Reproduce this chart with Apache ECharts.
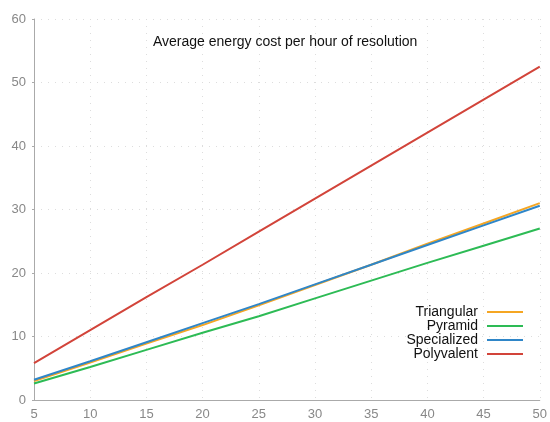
<!DOCTYPE html>
<html><head><meta charset="utf-8">
<script src="https://cdn.jsdelivr.net/npm/echarts@6/dist/echarts.min.js"></script>
<style>html,body{margin:0;padding:0;background:#fff}#c{width:550px;height:422px}</style>
</head><body><div id="c"></div>
<script>
const xValues = [5, 10, 15, 20, 25, 30, 35, 40, 45, 50];
const triangular = [3.0, 5.9, 8.9, 11.8, 14.9, 18.1, 21.3, 24.6, 27.8, 31.0];
const pyramid = [2.6, 5.2, 7.9, 10.6, 13.2, 16.0, 18.8, 21.6, 24.3, 27.0];
const specialized = [3.2, 6.1, 9.1, 12.1, 15.1, 18.2, 21.3, 24.4, 27.5, 30.6];
const polyvalent = [5.8, 11.0, 16.2, 21.3, 26.5, 31.7, 36.9, 42.1, 47.3, 52.5];
const seriesNames = ['Triangular', 'Pyramid', 'Specialized', 'Polyvalent'];
const seriesColors = ['#f5a623', '#2dbb55', '#2f86c8', '#d2443a'];
const titleText = 'Average energy cost per hour of resolution';

const font = 'Helvetica, "Liberation Sans", Arial, sans-serif';
const allData = [triangular, pyramid, specialized, polyvalent];
const chart = echarts.init(document.getElementById('c'));
chart.setOption({
  animation: false,
  title: { text: titleText, left: 148, top: 30,
    textStyle: { fontFamily: font, fontSize: 14, fontWeight: 'normal', color: '#111' } },
  legend: {
    data: seriesNames, orient: 'vertical', right: 22, top: 300, align: 'right',
    itemWidth: 36, itemHeight: 2, itemGap: 0, icon: 'rect',
    textStyle: { fontFamily: font, fontSize: 14, lineHeight: 14, color: '#111', padding: [0, 4, 0, 0] }
  },
  grid: { left: 34, right: 9, top: 19, bottom: 22 },
  xAxis: {
    type: 'value', min: 5, max: 50, interval: 5,
    axisLine: { lineStyle: { color: '#aaa' } },
    axisTick: { show: false },
    axisLabel: { fontFamily: font, fontSize: 13, color: '#888', margin: 8 },
    splitLine: { show: true, lineStyle: { color: '#ddd', type: [1, 6] } }
  },
  yAxis: {
    type: 'value', min: 0, max: 60, interval: 10,
    axisLine: { show: true, lineStyle: { color: '#aaa' } },
    axisTick: { show: true, length: 2, lineStyle: { color: '#aaa' } },
    axisLabel: { fontFamily: font, fontSize: 13, color: '#888', margin: 8 },
    splitLine: { show: true, lineStyle: { color: '#ddd', type: [1, 6] } }
  },
  series: seriesNames.map((n, i) => ({
    name: n, type: 'line', symbol: 'none', color: seriesColors[i],
    lineStyle: { width: 2, color: seriesColors[i] },
    data: xValues.map((x, j) => [x, allData[i][j]])
  }))
});
</script></body></html>
